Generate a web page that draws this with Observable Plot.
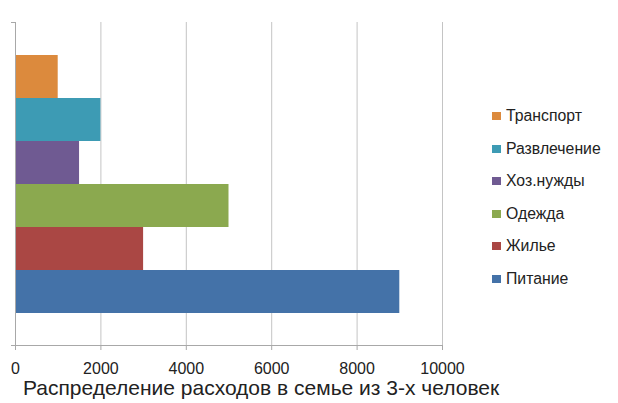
<!DOCTYPE html>
<html>
<head>
<meta charset="utf-8">
<script src="https://cdn.jsdelivr.net/npm/d3@7"></script>
<script src="https://cdn.jsdelivr.net/npm/@observablehq/plot@0.6"></script>
<style>
  html, body { margin: 0; padding: 0; background: #fff; }
  #wrap { position: relative; width: 618px; height: 403px; overflow: hidden; font-family: "Liberation Sans", Arial, sans-serif; }
  #chart svg { display: block; }
  #title { position: absolute; left: 23px; top: 377px; font-size: 21px; color: #222; white-space: nowrap; line-height: 21px; }
  #legend { position: absolute; left: 492px; top: 100px; font-size: 15.8px; color: #222; }
  .item { display: flex; align-items: center; height: 32.5px; white-space: nowrap; }
  .sw { width: 9px; height: 8px; margin-right: 5px; }
</style>
</head>
<body>
<div id="wrap">
  <div id="chart"></div>
  <div id="legend"></div>
  <div id="title"></div>
</div>
<script>
const categories = ["Транспорт", "Развлечение", "Хоз.нужды", "Одежда", "Жилье", "Питание"];
const values = [1000, 2000, 1500, 5000, 3000, 9000];
const colors = ["#dc8a3d", "#3d9bb4", "#6f5a92", "#8ba94f", "#aa4744", "#4472a8"];
const xTicks = [0, 2000, 4000, 6000, 8000, 10000];
const titleText = "Распределение расходов в семье из 3-х человек";

const data = categories.map((c, i) => ({category: c, value: values[i]}));

const plot = Plot.plot({
  width: 618,
  height: 378,
  marginLeft: 15,
  marginRight: 176,
  marginTop: 22,
  marginBottom: 33,
  style: {fontFamily: "'Liberation Sans', Arial, sans-serif", fontSize: "16px", color: "#222", background: "#fff", overflow: "visible"},
  x: {domain: [0, 10000], label: null},
  y: {domain: categories, paddingInner: 0, paddingOuter: 0.755, axis: null},
  color: {domain: categories, range: colors},
  marks: [
    Plot.gridX(xTicks.slice(1), {stroke: "#c4c4c4", strokeOpacity: 1}),
    Plot.barX(data, {x: "value", y: "category", fill: "category", insetTop: 0, insetBottom: 0}),
    Plot.frame({anchor: "left", stroke: "#a8a8a8"}),
    Plot.frame({anchor: "bottom", stroke: "#a8a8a8"}),
    Plot.frame({anchor: "bottom", stroke: "#a8a8a8", dx: -4}),
    Plot.axisX({ticks: xTicks, tickSize: 5, stroke: "#a8a8a8", label: null, tickFormat: () => ""}),
    Plot.axisX({ticks: xTicks, tickSize: 0, tickPadding: 17, fontSize: 16, fill: "#222", label: null, tickFormat: d => String(d)})
  ]
});

// small ticks at the top and bottom of the vertical axis, from the scales' ranges
const xs = plot.scale("x"), ys = plot.scale("y");
const x0 = xs.range[0];
d3.select(plot).append("g").attr("stroke", "#a8a8a8")
  .selectAll("line").data(ys.range).join("line")
  .attr("x1", x0 - 4).attr("x2", x0).attr("y1", d => d + 0.5).attr("y2", d => d + 0.5);

document.getElementById("chart").appendChild(plot);
document.getElementById("title").textContent = titleText;

const legend = d3.select("#legend");
categories.forEach((c, i) => {
  const it = legend.append("div").attr("class", "item");
  it.append("div").attr("class", "sw").style("background", colors[i]);
  it.append("span").text(c);
});
</script>
</body>
</html>
